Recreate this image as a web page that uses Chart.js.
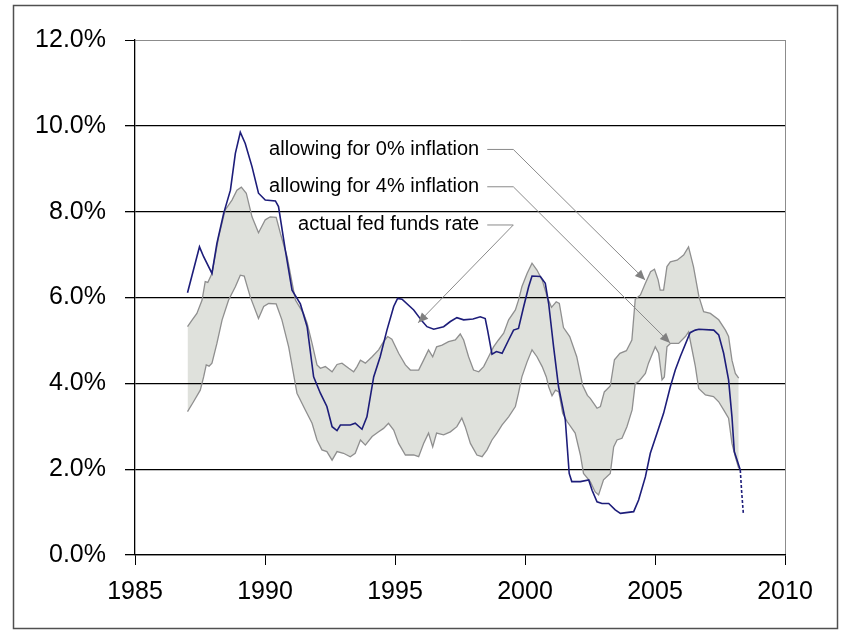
<!DOCTYPE html>
<html>
<head>
<meta charset="utf-8">
<script src="https://cdn.jsdelivr.net/npm/chart.js@4.4.0/dist/chart.umd.min.js"></script>
<style>
  html, body { margin: 0; padding: 0; background: #fff; }
</style>
</head>
<body>
<canvas id="rateChart" width="844" height="632"></canvas>
<script>
// --- data ---
const xTicks = [1985, 1990, 1995, 2000, 2005, 2010];
const yTicks = [0, 2, 4, 6, 8, 10, 12];

// actual fed funds rate
const fedYears = [1987.02, 1987.48, 1987.64, 1987.96, 1988.15, 1988.41, 1988.67, 1988.86, 1989.05, 1989.24,
  1989.50, 1989.75, 1990.01, 1990.40, 1990.52, 1990.78, 1991.04, 1991.36, 1991.62, 1991.87,
  1992.13, 1992.38, 1992.58, 1992.77, 1992.90, 1993.28, 1993.47, 1993.73, 1993.92, 1994.18,
  1994.43, 1994.69, 1994.95, 1995.10, 1995.27, 1995.72, 1996.04, 1996.23, 1996.49, 1996.87,
  1997.13, 1997.38, 1997.64, 1998.00, 1998.28, 1998.47, 1998.56, 1998.73, 1998.90, 1999.12,
  1999.37, 1999.56, 1999.75, 1999.95, 2000.14, 2000.27, 2000.59, 2000.78, 2000.91, 2001.10,
  2001.29, 2001.55, 2001.70, 2001.80, 2002.13, 2002.45, 2002.58, 2002.77, 2002.96, 2003.22,
  2003.47, 2003.67, 2004.18, 2004.37, 2004.63, 2004.82, 2005.08, 2005.33, 2005.59, 2005.78,
  2005.97, 2006.35, 2006.55, 2006.69, 2007.26, 2007.45, 2007.64, 2007.83, 2007.96, 2008.05, 2008.28];
const fedRates = [6.11, 7.18, 6.95, 6.56, 7.26, 7.96, 8.50, 9.36, 9.85, 9.59,
  9.05, 8.43, 8.27, 8.25, 8.12, 7.11, 6.17, 5.85, 5.32, 4.15,
  3.77, 3.46, 2.99, 2.90, 3.03, 3.03, 3.07, 2.93, 3.22, 4.15,
  4.62, 5.24, 5.79, 5.98, 5.96, 5.71, 5.45, 5.32, 5.26, 5.32,
  5.44, 5.53, 5.48, 5.50, 5.55, 5.51, 5.24, 4.68, 4.74, 4.70,
  5.01, 5.24, 5.28, 5.79, 6.25, 6.50, 6.49, 6.33, 5.86, 4.85,
  3.92, 3.15, 1.90, 1.71, 1.71, 1.75, 1.51, 1.24, 1.20, 1.20,
  1.05, 0.97, 1.01, 1.28, 1.82, 2.37, 2.84, 3.30, 3.92, 4.31,
  4.62, 5.18, 5.24, 5.26, 5.24, 5.13, 4.70, 4.08, 3.22, 2.41, 1.98];
// dotted tail of the fed funds rate
const fedTailYears = [2008.28, 2008.33, 2008.40];
const fedTailRates = [1.98, 1.50, 0.95];

// allowing for 0% inflation (upper edge of band)
const upperYears = [1987.02, 1987.20, 1987.38, 1987.58, 1987.70, 1987.80, 1987.96, 1988.22, 1988.47, 1988.73,
  1988.92, 1989.09, 1989.28, 1989.50, 1989.75, 1990.01, 1990.20, 1990.43, 1990.59, 1990.85,
  1991.17, 1991.48, 1991.62, 1991.81, 1992.00, 1992.13, 1992.32, 1992.58, 1992.77, 1992.96,
  1993.22, 1993.41, 1993.54, 1993.67, 1993.86, 1994.12, 1994.37, 1994.56, 1994.72, 1994.88,
  1995.14, 1995.40, 1995.59, 1995.91, 1996.10, 1996.29, 1996.45, 1996.60, 1996.81, 1997.06,
  1997.32, 1997.51, 1997.64, 1997.83, 1998.02, 1998.22, 1998.41, 1998.60, 1998.79, 1998.98,
  1999.18, 1999.37, 1999.63, 1999.75, 1999.88, 2000.08, 2000.27, 2000.46, 2000.66, 2000.85,
  2001.02, 2001.20, 2001.32, 2001.48, 2001.72, 2001.99, 2002.22, 2002.40, 2002.51, 2002.77,
  2002.90, 2003.05, 2003.28, 2003.44, 2003.65, 2003.90, 2004.11, 2004.24, 2004.44, 2004.63,
  2004.83, 2004.98, 2005.12, 2005.20, 2005.33, 2005.46, 2005.59, 2005.85, 2006.10, 2006.29,
  2006.48, 2006.69, 2006.87, 2007.13, 2007.45, 2007.71, 2007.83, 2007.96, 2008.09, 2008.22];
const upperRates = [5.32, 5.48, 5.63, 5.94, 6.37, 6.35, 6.56, 7.42, 8.04, 8.27,
  8.50, 8.57, 8.43, 7.88, 7.51, 7.81, 7.88, 7.87, 7.50, 6.95,
  5.94, 5.63, 5.40, 4.93, 4.43, 4.35, 4.39, 4.27, 4.44, 4.47,
  4.35, 4.27, 4.39, 4.54, 4.47, 4.62, 4.78, 4.97, 5.09, 5.03,
  4.70, 4.43, 4.31, 4.31, 4.54, 4.78, 4.62, 4.85, 4.89, 4.97,
  5.01, 5.15, 5.01, 4.62, 4.31, 4.27, 4.39, 4.62, 4.85, 5.01,
  5.17, 5.48, 5.71, 5.94, 6.25, 6.56, 6.80, 6.64, 6.41, 6.02,
  5.77, 5.90, 5.86, 5.30, 5.09, 4.62, 3.95, 3.72, 3.65, 3.42,
  3.46, 3.80, 3.94, 4.55, 4.70, 4.76, 5.01, 5.96, 6.06, 6.33,
  6.60, 6.66, 6.41, 6.17, 6.17, 6.72, 6.83, 6.87, 6.99, 7.18,
  6.72, 6.02, 5.67, 5.63, 5.48, 5.24, 5.09, 4.54, 4.23, 4.12];

// allowing for 4% inflation (lower edge of band)
const lowerYears = [1987.02, 1987.25, 1987.51, 1987.64, 1987.74, 1987.85, 1987.96, 1988.15, 1988.35, 1988.60,
  1988.86, 1989.05, 1989.20, 1989.43, 1989.75, 1989.95, 1990.14, 1990.43, 1990.65, 1990.91,
  1991.23, 1991.55, 1991.81, 1992.00, 1992.19, 1992.38, 1992.58, 1992.77, 1993.02, 1993.28,
  1993.47, 1993.67, 1993.86, 1994.12, 1994.37, 1994.56, 1994.75, 1994.95, 1995.14, 1995.40,
  1995.72, 1995.91, 1996.10, 1996.29, 1996.45, 1996.60, 1996.87, 1997.13, 1997.38, 1997.57,
  1997.70, 1997.90, 1998.15, 1998.35, 1998.54, 1998.73, 1998.92, 1999.12, 1999.37, 1999.63,
  1999.75, 1999.88, 2000.08, 2000.27, 2000.46, 2000.66, 2000.82, 2000.91, 2001.04, 2001.17,
  2001.30, 2001.45, 2001.62, 2001.93, 2002.13, 2002.25, 2002.51, 2002.70, 2002.83, 2003.02,
  2003.28, 2003.41, 2003.54, 2003.73, 2003.92, 2004.12, 2004.24, 2004.37, 2004.63, 2004.75,
  2005.01, 2005.14, 2005.27, 2005.36, 2005.46, 2005.59, 2005.91, 2006.17, 2006.29, 2006.42,
  2006.55, 2006.68, 2006.94, 2007.25, 2007.45, 2007.64, 2007.83, 2007.96, 2008.09, 2008.22];
const lowerRates = [3.34, 3.57, 3.84, 4.15, 4.43, 4.40, 4.47, 4.93, 5.48, 5.94,
  6.25, 6.52, 6.50, 6.02, 5.51, 5.79, 5.86, 5.85, 5.48, 4.85,
  3.77, 3.38, 3.07, 2.68, 2.45, 2.41, 2.21, 2.41, 2.37, 2.29,
  2.37, 2.68, 2.56, 2.76, 2.87, 2.95, 3.07, 2.91, 2.60, 2.33,
  2.33, 2.29, 2.60, 2.84, 2.52, 2.84, 2.80, 2.87, 2.99, 3.19,
  2.99, 2.60, 2.33, 2.29, 2.45, 2.68, 2.84, 3.03, 3.22, 3.46,
  3.77, 4.15, 4.50, 4.78, 4.62, 4.39, 4.15, 3.92, 3.71, 3.84,
  3.80, 3.30, 3.11, 2.84, 2.33, 1.90, 1.71, 1.47, 1.40, 1.75,
  1.90, 2.52, 2.68, 2.72, 2.99, 3.38, 4.00, 4.04, 4.23, 4.47,
  4.85, 4.70, 4.08, 4.15, 4.85, 4.93, 4.93, 5.09, 5.20, 4.80,
  4.40, 3.88, 3.73, 3.69, 3.57, 3.38, 3.19, 2.60, 2.29, 2.02];

const pts = (xs, ys) => xs.map((x, i) => ({ x: x, y: ys[i] }));

// leader notes, anchored in data units
const notes = [
  { text: 'allowing for 0% inflation', at: [1998.24, 9.45], bend: [1999.55, 9.45], tip: [2004.62, 6.41] },
  { text: 'allowing for 4% inflation', at: [1998.24, 8.58], bend: [1999.55, 8.58], tip: [2005.58, 4.94] },
  { text: 'actual fed funds rate',     at: [1998.24, 7.69], bend: [1999.55, 7.69], tip: [1995.89, 5.41] }
];

const FONT = '"Liberation Sans", Arial, Helvetica, sans-serif';

const notePlugin = {
  id: 'notes',
  afterDatasetsDraw(chart) {
    const ctx = chart.ctx;
    const xs = chart.scales.x, ys = chart.scales.y;
    ctx.save();
    notes.forEach(n => {
      const tx = xs.getPixelForValue(n.at[0]), ty = ys.getPixelForValue(n.at[1]);
      const bx = xs.getPixelForValue(n.bend[0]), by = ys.getPixelForValue(n.bend[1]);
      const px = xs.getPixelForValue(n.tip[0]), py = ys.getPixelForValue(n.tip[1]);
      ctx.font = '20px ' + FONT;
      ctx.fillStyle = '#000';
      ctx.textAlign = 'right';
      ctx.textBaseline = 'middle';
      ctx.fillText(n.text, tx, ty);

      ctx.strokeStyle = '#8a8a8a';
      ctx.lineWidth = 1;
      ctx.beginPath();
      ctx.moveTo(tx + 8, ty);
      ctx.lineTo(bx, by);
      ctx.lineTo(px, py);
      ctx.stroke();

      // arrow head
      const ang = Math.atan2(py - by, px - bx);
      const len = 10, half = 4.5;
      ctx.fillStyle = '#808080';
      ctx.beginPath();
      ctx.moveTo(px, py);
      ctx.lineTo(px - len * Math.cos(ang) + half * Math.sin(ang), py - len * Math.sin(ang) - half * Math.cos(ang));
      ctx.lineTo(px - len * Math.cos(ang) - half * Math.sin(ang), py - len * Math.sin(ang) + half * Math.cos(ang));
      ctx.closePath();
      ctx.fill();
    });
    ctx.restore();
  }
};

const framePlugin = {
  id: 'frame',
  afterDraw(chart) {
    const ctx = chart.ctx;
    ctx.save();
    ctx.strokeStyle = '#505050';
    ctx.lineWidth = 1.5;
    ctx.strokeRect(13.5, 5.5, 824, 623);
    ctx.restore();
  }
};

const chart = new Chart(document.getElementById('rateChart'), {
  type: 'line',
  data: {
    datasets: [
      {
        label: 'actual fed funds rate',
        data: pts(fedYears, fedRates),
        borderColor: '#1d1d7a',
        borderWidth: 1.6,
        pointRadius: 0,
        fill: false
      },
      {
        label: 'fed funds tail',
        data: pts(fedTailYears, fedTailRates),
        borderColor: '#1d1d7a',
        borderWidth: 1.6,
        borderDash: [3, 2],
        pointRadius: 0,
        fill: false
      },
      {
        label: 'allowing for 0% inflation',
        data: pts(upperYears, upperRates),
        borderColor: '#8f8f8f',
        borderWidth: 1.3,
        backgroundColor: '#dfe1dc',
        pointRadius: 0,
        fill: 3
      },
      {
        label: 'allowing for 4% inflation',
        data: pts(lowerYears, lowerRates),
        borderColor: '#8f8f8f',
        borderWidth: 1.3,
        pointRadius: 0,
        fill: false
      }
    ]
  },
  options: {
    responsive: false,
    devicePixelRatio: 1,
    animation: false,
    layout: { padding: { top: 40, right: 59, left: 0, bottom: 0 } },
    plugins: {
      legend: { display: false },
      tooltip: { enabled: false },
      filler: { drawTime: 'beforeDraw' }
    },
    scales: {
      x: {
        type: 'linear',
        min: 1985,
        max: 2010,
        afterBuildTicks: s => { s.ticks = xTicks.map(v => ({ value: v })); },
        afterFit: s => { s.height = 77; },
        ticks: {
          callback: v => String(v),
          font: { family: FONT, size: 25 },
          color: '#000',
          padding: 12,
          maxRotation: 0
        },
        grid: {
          color: c => (c.tick && c.tick.value === 2010) ? '#8c8c8c' : 'rgba(0,0,0,0)',
          tickColor: '#000',
          tickLength: 10,
          lineWidth: 1
        },
        border: { color: '#000', width: 1.3 }
      },
      y: {
        min: 0,
        max: 12,
        afterBuildTicks: s => { s.ticks = yTicks.map(v => ({ value: v })); },
        afterFit: s => { s.width = 135; },
        ticks: {
          callback: v => v.toFixed(1) + '%',
          font: { family: FONT, size: 25 },
          color: '#000',
          padding: 19
        },
        grid: {
          color: c => (c.tick && c.tick.value === 12) ? '#8c8c8c' : '#000',
          lineWidth: c => (c.tick && c.tick.value === 12) ? 1 : 1.3,
          tickColor: '#000',
          tickLength: 10
        },
        border: { color: '#000', width: 1.3 }
      }
    }
  },
  plugins: [notePlugin, framePlugin]
});
</script>
</body>
</html>
